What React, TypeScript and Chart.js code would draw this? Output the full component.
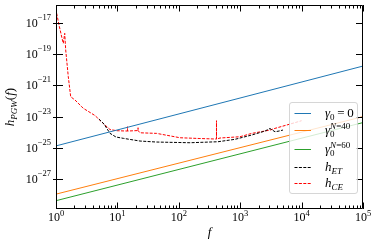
import React, { useEffect, useRef } from 'react';
import Chart from 'chart.js/auto';

// ---- data ----
const lineFreq = [1, 1e5];
const gamma0 = [1.35e-25, 1.7e-20];
const gammaN40 = [1.12e-28, 1.0e-23];
const gammaN60 = [4.27e-29, 4.17e-24];

const etFreq = [5.0, 6.05, 7.57, 9.48, 12.5, 23.3, 43.6, 152, 435, 822, 1538, 2535, 3055, 3690, 4285, 4977];
const etH = [7.0e-24, 3.37e-24, 8.57e-25, 5.0e-25, 4.1e-25, 2.76e-25, 2.38e-25, 2.15e-25, 2.49e-25, 3.55e-25, 6.67e-25, 1.2e-24, 1.74e-24, 1.08e-24, 1.2e-24, 1.39e-24];

const ceFreq = [1.025, 1.12, 1.25, 1.315, 1.387, 1.439, 1.585, 1.735, 2.04, 2.78, 4.32, 6.28, 7.57, 9.75, 14.6, 14.6, 14.6, 21.7, 21.7, 21.7, 23.3, 43.6, 105, 221, 411, 411, 411, 469, 993, 1540, 3055, 3690, 5715, 10000];
const ceH = [3.98e-17, 7.1e-18, 1.05e-18, 4.8e-19, 2.1e-18, 1.8e-19, 3.55e-21, 1.86e-22, 1.15e-22, 3.4e-23, 1.17e-23, 2.9e-24, 1.5e-24, 1.26e-24, 1.2e-24, 2.27e-24, 1.2e-24, 1.29e-24, 1.95e-24, 1.29e-24, 9.3e-25, 8.5e-25, 4.47e-25, 4.0e-25, 3.7e-25, 5.5e-24, 3.7e-25, 4.3e-25, 5.2e-25, 8.5e-25, 1.38e-24, 1.78e-24, 2.9e-24, 5.5e-24];

const xTickExps = [0, 1, 2, 3, 4, 5];
const yTickExps = [-27, -25, -23, -21, -19, -17];
const xMin = 1;
const xMax = 1e5;
const yMin = Math.pow(10, -28.9);
const yMax = Math.pow(10, -15.87);

const COLORS = { blue: '#1f77b4', orange: '#ff7f0e', green: '#2ca02c', black: '#000000', red: '#ff0000' };
const SERIF = "'Liberation Serif', 'DejaVu Serif', serif";

type Seg = { t: string; size: number; italic?: boolean; dy?: number; dx?: number; noAdvance?: boolean };

function segFont(s: Seg) {
  return `${s.italic ? 'italic ' : ''}${s.size}px ${SERIF}`;
}
function measure(ctx: CanvasRenderingContext2D, segs: Seg[]) {
  let w = 0;
  let maxRun = 0;
  for (const s of segs) {
    ctx.font = segFont(s);
    const mw = ctx.measureText(s.t).width + (s.dx || 0);
    if (s.noAdvance) {
      maxRun = Math.max(maxRun, mw);
    } else {
      w += Math.max(mw, maxRun);
      maxRun = 0;
    }
  }
  return w + maxRun;
}
function drawSegs(ctx: CanvasRenderingContext2D, segs: Seg[], x: number, y: number, align: 'left' | 'center' | 'right') {
  const w = measure(ctx, segs);
  let cx = align === 'left' ? x : align === 'center' ? x - w / 2 : x - w;
  ctx.textAlign = 'left';
  ctx.textBaseline = 'alphabetic';
  let maxRun = 0;
  for (const s of segs) {
    ctx.font = segFont(s);
    const mw = ctx.measureText(s.t).width;
    ctx.fillText(s.t, cx + (s.dx || 0), y + (s.dy || 0));
    if (s.noAdvance) {
      maxRun = Math.max(maxRun, mw + (s.dx || 0));
    } else {
      cx += Math.max(mw + (s.dx || 0), maxRun);
      maxRun = 0;
    }
  }
}

const decorPlugin = {
  id: 'decor',
  afterDatasetsDraw(chart: any) {
    const ctx: CanvasRenderingContext2D = chart.ctx;
    const xs = chart.scales.x;
    const ys = chart.scales.y;
    const { left, right, top, bottom } = chart.chartArea;
    ctx.save();
    // frame
    ctx.strokeStyle = '#000';
    ctx.lineWidth = 1;
    ctx.beginPath();
    ctx.rect(Math.round(left) + 0.5, Math.round(top) + 0.5, Math.round(right - left) - 1, Math.round(bottom - top) - 1);
    ctx.stroke();

    // x ticks
    ctx.beginPath();
    for (let e = 0; e <= 5; e++) {
      for (let m = 1; m <= 9; m++) {
        const v = m * Math.pow(10, e);
        if (v > xMax) continue;
        const px = Math.round(xs.getPixelForValue(v)) + 0.5;
        const len = m === 1 ? 6.5 : 3.5;
        ctx.moveTo(px, bottom);
        ctx.lineTo(px, bottom - len);
        ctx.moveTo(px, top);
        ctx.lineTo(px, top + len);
      }
    }
    // y ticks
    for (const e of yTickExps) {
      const py = Math.round(ys.getPixelForValue(Math.pow(10, e))) + 0.5;
      ctx.moveTo(left - 3, py);
      ctx.lineTo(left + 7, py);
      ctx.moveTo(right, py);
      ctx.lineTo(right - 7, py);
    }
    ctx.stroke();

    // tick labels
    ctx.fillStyle = '#000';
    for (const e of xTickExps) {
      const px = xs.getPixelForValue(Math.pow(10, e));
      drawSegs(ctx, [
        { t: '10', size: 12 },
        { t: String(e), size: 8.5, dy: -5.5 },
      ], px, bottom + 12, 'center');
    }
    for (const e of yTickExps) {
      const py = ys.getPixelForValue(Math.pow(10, e));
      drawSegs(ctx, [
        { t: '10', size: 12 },
        { t: '\u2212' + String(-e), size: 8.5, dy: -7 },
      ], left - 5, py + 4, 'right');
    }

    // axis titles
    drawSegs(ctx, [{ t: 'f', size: 13, italic: true }], (left + right) / 2, bottom + 27, 'center');
    ctx.save();
    ctx.translate(14, (top + bottom) / 2);
    ctx.rotate(-Math.PI / 2);
    drawSegs(ctx, [
      { t: 'h', size: 13, italic: true },
      { t: 'PGW', size: 9, italic: true, dy: 2.5 },
      { t: '(', size: 13 },
      { t: 'f', size: 13, italic: true },
      { t: ')', size: 13 },
    ], 0, 0, 'center');
    ctx.restore();

    // legend
    const lx = 289.5, ly = 102.5, lw = 68, lh = 91;
    ctx.beginPath();
    if ((ctx as any).roundRect) (ctx as any).roundRect(lx, ly, lw, lh, 2.5);
    else ctx.rect(lx, ly, lw, lh);
    ctx.fillStyle = 'rgba(255,255,255,0.8)';
    ctx.fill();
    ctx.strokeStyle = 'rgba(204,204,204,0.8)';
    ctx.lineWidth = 1;
    ctx.stroke();

    const rows: { color: string; dash: number[]; y: number; segs: Seg[] }[] = [
      { color: COLORS.blue, dash: [], y: 112.7, segs: [
        { t: '\u03b3', size: 13, italic: true },
        { t: '0', size: 9, dy: 3 },
        { t: '\u2009=\u20090', size: 13 },
      ] },
      { color: COLORS.orange, dash: [], y: 130, segs: [
        { t: '\u03b3', size: 13, italic: true },
        { t: '0', size: 9, dy: 3, noAdvance: true },
        { t: 'N', size: 9, italic: true, dy: -5 },
        { t: '=40', size: 9, dy: -5 },
      ] },
      { color: COLORS.green, dash: [], y: 149, segs: [
        { t: '\u03b3', size: 13, italic: true },
        { t: '0', size: 9, dy: 3, noAdvance: true },
        { t: 'N', size: 9, italic: true, dy: -5 },
        { t: '=60', size: 9, dy: -5 },
      ] },
      { color: COLORS.black, dash: [3, 1.4], y: 166.7, segs: [
        { t: 'h', size: 13, italic: true },
        { t: 'ET', size: 9, italic: true, dy: 3 },
      ] },
      { color: COLORS.red, dash: [3, 1.4], y: 183.3, segs: [
        { t: 'h', size: 13, italic: true },
        { t: 'CE', size: 9, italic: true, dy: 3 },
      ] },
    ];
    for (const r of rows) {
      ctx.beginPath();
      ctx.setLineDash(r.dash);
      ctx.strokeStyle = r.color;
      ctx.lineWidth = 1;
      ctx.moveTo(294.5, Math.round(r.y) + 0.5);
      ctx.lineTo(311, Math.round(r.y) + 0.5);
      ctx.stroke();
      ctx.setLineDash([]);
      ctx.fillStyle = '#000';
      drawSegs(ctx, r.segs, 325, r.y + 4, 'left');
    }
    ctx.restore();
  },
};

function pts(xsArr: number[], ysArr: number[]) {
  return xsArr.map((x, i) => ({ x, y: ysArr[i] }));
}

export default function App() {
  const ref = useRef<HTMLCanvasElement | null>(null);
  useEffect(() => {
    if (!ref.current) return;
    const base = { borderWidth: 1, pointRadius: 0, tension: 0, fill: false };
    const chart = new Chart(ref.current, {
      type: 'line',
      data: {
        datasets: [
          { ...base, label: 'g0', data: pts(lineFreq, gamma0), borderColor: COLORS.blue },
          { ...base, label: 'g40', data: pts(lineFreq, gammaN40), borderColor: COLORS.orange },
          { ...base, label: 'g60', data: pts(lineFreq, gammaN60), borderColor: COLORS.green },
          { ...base, label: 'hET', data: pts(etFreq, etH), borderColor: COLORS.black, borderDash: [3, 1.4] },
          { ...base, label: 'hCE', data: pts(ceFreq, ceH), borderColor: COLORS.red, borderDash: [3, 1.4] },
        ],
      },
      options: {
        responsive: false,
        animation: false,
        parsing: true,
        layout: { padding: { left: 56, right: 15, top: 5, bottom: 40 } },
        plugins: { legend: { display: false }, tooltip: { enabled: false } },
        scales: {
          x: { type: 'logarithmic', min: xMin, max: xMax, display: false },
          y: { type: 'logarithmic', min: yMin, max: yMax, display: false },
        },
      } as any,
      plugins: [decorPlugin],
    });
    return () => chart.destroy();
  }, []);
  return (
    <div style={{ position: 'absolute', left: 0, top: 0, width: 378, height: 249, background: '#fff' }}>
      <canvas ref={ref} width={378} height={249} style={{ display: 'block' }} />
    </div>
  );
}
